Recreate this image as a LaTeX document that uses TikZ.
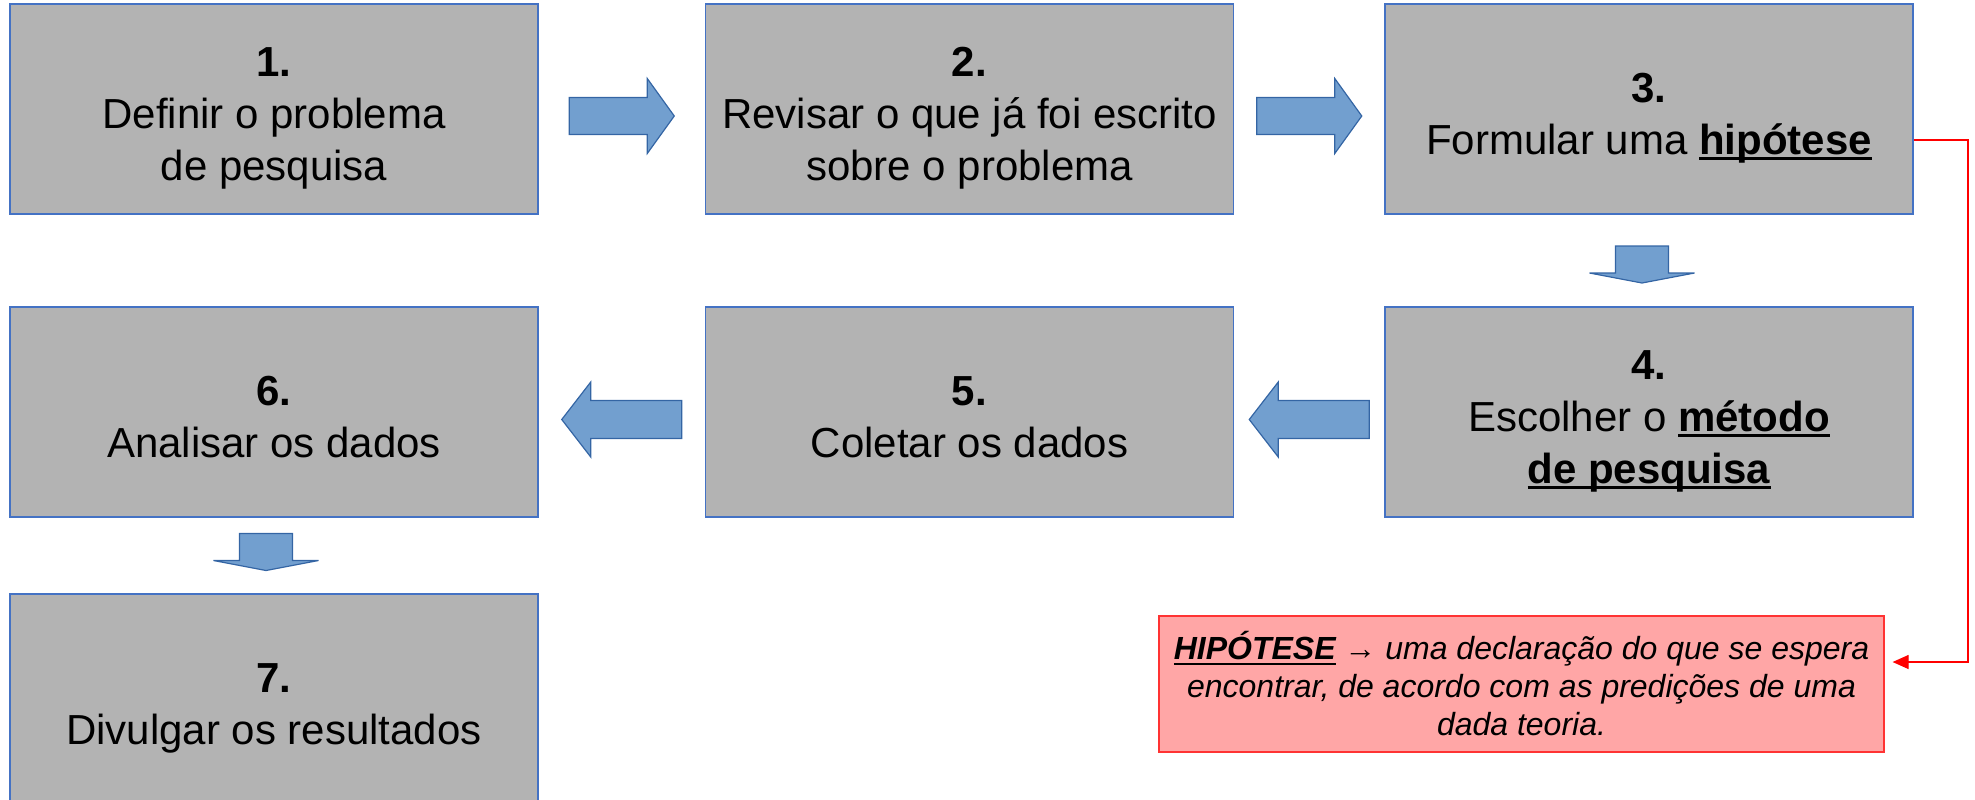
\documentclass[tikz,border=0pt]{standalone}
\usepackage{fontspec}
\setmainfont{Liberation Sans}
\usetikzlibrary{calc,arrows.meta}

\definecolor{boxgray}{HTML}{B3B3B3}
\definecolor{boxline}{HTML}{4472C4}
\definecolor{arrowfill}{HTML}{729FCF}
\definecolor{arrowline}{HTML}{3465A4}
\definecolor{hypfill}{HTML}{FFA6A6}
\definecolor{hypred}{HTML}{FF0000}

% underline that sits just below the baseline
\newcommand\ulin[1]{\sbox0{#1}\rlap{\rule[-2.5pt]{\wd0}{1.1pt}}\usebox0}
% step number, with a little extra room above it
\newcommand\stepnum[1]{\rule{0pt}{19.5pt}\textbf{#1.}}

\begin{document}
\begin{tikzpicture}[x=0.5pt,y=-0.5pt,
	stepbox/.style={draw=boxline, line width=0.6pt, fill=boxgray, minimum width=264pt, minimum height=105pt, inner sep=0pt, text depth=0pt, align=center, font=\fontsize{21}{26}\selectfont},
	hypbox/.style={draw=hypred!80, line width=0.6pt, fill=hypfill, minimum width=362.5pt, minimum height=68pt, inner sep=0pt, align=center, font=\fontsize{16}{19}\selectfont\itshape},
	hypline/.style={draw=hypred, line width=0.6pt, -{Triangle[length=8pt,width=7pt]}},
	blockarrow/.style={draw=arrowline, fill=arrowfill, line width=0.6pt},
	rarrow/.pic={\path[blockarrow] (-52.5,-18.5) -- (25.5,-18.5) -- (25.5,-37.5) -- (52.5,0) -- (25.5,37.5) -- (25.5,18.5) -- (-52.5,18.5) -- cycle;},
	larrow/.pic={\path[blockarrow] (60,-19) -- (-31,-19) -- (-31,-37.5) -- (-60,0) -- (-31,37.5) -- (-31,19) -- (60,19) -- cycle;},
	darrow/.pic={\path[blockarrow] (-26.5,-18.5) -- (26.5,-18.5) -- (26.5,8.5) -- (52.5,8.5) -- (0,18.5) -- (-52.5,8.5) -- (-26.5,8.5) -- cycle;}
	]
	\useasboundingbox (0,0) rectangle (1975,799);
	% first row
	\node[stepbox] (b1) at (274,109) {\stepnum{1}\\Definir o problema\\de pesquisa};
	\node[stepbox] (b2) at (969.5,109) {\stepnum{2}\\Revisar o que já foi escrito\\sobre o problema};
	\node[stepbox] (b3) at (1649,109) {\stepnum{3}\\Formular uma \ulin{\textbf{hipótese}}};
	% second row
	\node[stepbox] (b4) at (1649,412) {\stepnum{4}\\Escolher o \ulin{\textbf{método}}\\\ulin{\textbf{de pesquisa}}};
	\node[stepbox] (b5) at (969.5,412) {\stepnum{5}\\Coletar os dados};
	\node[stepbox] (b6) at (274,412) {\stepnum{6}\\Analisar os dados};
	% last one
	\node[stepbox] (b7) at (274,699) {\stepnum{7}\\Divulgar os resultados};
	\node[hypbox] (hyp) at (1521.5,684) {\ulin{\textbf{HIPÓTESE}} → uma declaração do que se espera\\encontrar, de acordo com as predições de uma\\dada teoria.};

	\pic at ($(b1.east)!0.5!(b2.west)+(0,7)$) {rarrow};
	\pic at ($(b2.east)!0.5!(b3.west)+(0,7)$) {rarrow};
	\pic at ($(b3.south)!0.5!(b4.north)+(-7,4)$) {darrow};
	\pic at ($(b4.west)!0.5!(b5.east)+(0,7.5)$) {larrow};
	\pic at ($(b5.west)!0.5!(b6.east)+(0,7.5)$) {larrow};
	\pic at ($(b6.south)!0.5!(b7.north)+(-8,-3.5)$) {darrow};

	\coordinate (turn) at (1968,140);
	\coordinate (tip) at ([xshift=4pt,yshift=11pt]hyp.east);
	\draw[hypline] (b3.east |- turn) -- (turn) |- (tip);
\end{tikzpicture}
\end{document}
